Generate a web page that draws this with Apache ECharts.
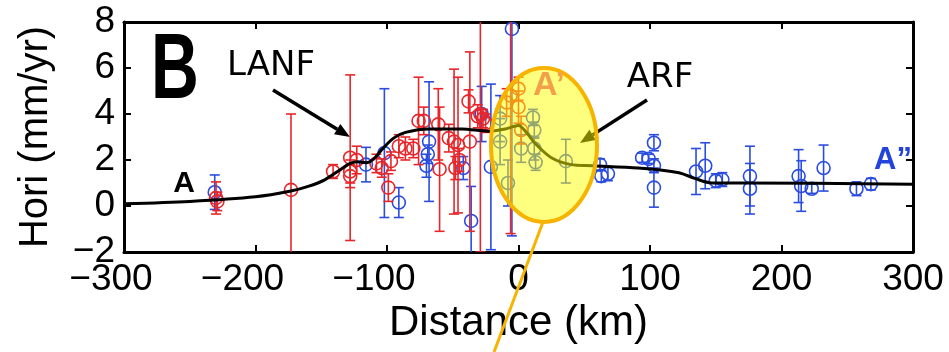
<!DOCTYPE html>
<html>
<head>
<meta charset="utf-8">
<script src="https://cdn.jsdelivr.net/npm/echarts@6/dist/echarts.min.js"></script>
<style>
  html, body { margin: 0; padding: 0; background: #fff; }
  #chart { width: 949px; height: 352px; }
</style>
</head>
<body>
<div id="chart"></div>
<script>
// values (km, mm/yr)
var blueX = [-231, -116, -102, -91, -68, -69, -70, -42, -36, -28, -21, -14, -14, -5, -8, 2,
  11, 12, 12, 13, 36, 62, 68, 63, 94, 99, 103, 103, 103, 135, 142, 150, 155, 176, 176,
  213, 215, 223, 232, 257, 268];
var blueY = [0.6, 1.8, 2.3, 0.15, 2.8, 2.25, 1.75, 1.65, -0.65, 4.0, 1.7, 3.8, 2.8, 7.7, 1.0, 2.5,
  3.85, 3.3, 2.5, 1.9, 1.95, 1.8, 1.4, 1.3, 2.1, 2.05, 2.75, 1.75, 0.8, 1.5, 1.75, 1.1, 1.15, 1.3, 0.75,
  1.3, 0.87, 0.75, 1.65, 0.75, 0.95];
var blueErr = [0.75, 0.75, 2.8, 0.65, 2.6, 0.4, 0.5, 0.5, 1.5, 1.2, 3.6, 1.0, 1.0, 9.0, 1.0, 0.6,
  0.35, 0.35, 0.5, 0.35, 0.95, 0.25, 0.3, 0.25, 0.2, 0.2, 0.35, 0.3, 0.85, 1.0, 1.0, 0.3, 0.3, 1.3, 1.1,
  1.15, 1.1, 0.2, 1.0, 0.3, 0.25];

var redX = [-230, -229, -173, -141, -128, -128, -128, -123, -108, -104, -97, -99, -91, -86, -80,
  -76, -72, -61, -60, -53, -49, -46, -45, -48, -38, -37, -31, -29, -27, -25, -9, -6, 0, 0, 2];
var redY = [0.35, 0.2, 0.7, 1.5, 2.1, 1.5, 1.3, 2.0, 1.85, 1.65, 1.95, 0.8, 2.6, 2.5, 2.5,
  3.7, 3.7, 3.55, 1.6, 2.95, 2.8, 2.65, 2.0, 1.65, 4.55, 2.8, 3.9, 4.0, 3.8, 3.6, 4.5, 4.8, 4.3, 5.1, 3.3];
var redErr = [0.7, 0.4, 3.3, 0.3, 3.6, 0.5, 0.5, 0.6, 0.4, 0.4, 0.4, 0.6, 0.5, 0.5, 0.4,
  1.9, 0.6, 1.55, 2.7, 0.6, 3.15, 2.95, 0.5, 0.5, 0.5, 3.9, 0.5, 6.0, 0.4, 0.4, 0.6, 6.0, 0.7, 0.5, 0.6];

var curveX = [-300, -250, -200, -173, -160, -147, -135, -128, -122, -116, -110, -104, -95, -86,
  -68, -43, -23, -10, 0, 6, 13, 25, 40, 56, 91, 122, 134, 147, 167, 300];
var curveY = [0.1, 0.2, 0.4, 0.65, 0.85, 1.15, 1.6, 1.85, 1.92, 1.88, 2.05, 2.45, 2.95, 3.2,
  3.35, 3.35, 3.25, 3.35, 3.5, 3.2, 2.7, 2.1, 1.8, 1.75, 1.65, 1.45, 1.2, 1.0, 1.0, 0.95];

function zip3(a, b, c) {
  return a.map(function (v, i) { return [v, b[i], c[i]]; });
}

// error bar + open circle
function errItem(color) {
  return function (params, api) {
    var x = api.value(0), y = api.value(1), e = api.value(2);
    var p = api.coord([x, y]);
    var t = api.coord([x, y + e]);
    var b = api.coord([x, y - e]);
    var st = { stroke: color, lineWidth: 1.6, fill: 'none' };
    return {
      type: 'group',
      children: [
        { type: 'line', shape: { x1: p[0], y1: t[1], x2: p[0], y2: b[1] }, style: st },
        { type: 'line', shape: { x1: p[0] - 5, y1: t[1], x2: p[0] + 5, y2: t[1] }, style: st },
        { type: 'line', shape: { x1: p[0] - 5, y1: b[1], x2: p[0] + 5, y2: b[1] }, style: st },
        { type: 'circle', shape: { cx: p[0], cy: p[1], r: 6.5 }, style: st }
      ]
    };
  };
}

function arrow(x1, y1, x2, y2) {
  var a = Math.atan2(y2 - y1, x2 - x1), L = 15, W = 6;
  var bx = x2 - L * Math.cos(a), by = y2 - L * Math.sin(a);
  return {
    type: 'group', z: 50,
    children: [
      { type: 'line', shape: { x1: x1, y1: y1, x2: bx, y2: by }, style: { stroke: '#000', lineWidth: 3.5 } },
      { type: 'polygon', shape: { points: [[x2, y2],
        [bx + W * Math.sin(a), by - W * Math.cos(a)],
        [bx - W * Math.sin(a), by + W * Math.cos(a)]] }, style: { fill: '#000' } }
    ]
  };
}

function minus(v) { return String(v).replace('-', '\u2212'); }

var chart = echarts.init(document.getElementById('chart'));

var axisText = { color: '#000', fontSize: 37, fontFamily: 'Liberation Sans' };

var option = {
  animation: false,
  backgroundColor: '#fff',
  grid: { left: 124, right: 36, top: 22, bottom: 100 },
  xAxis: [
    {
      type: 'value', min: -300, max: 300, interval: 100,
      name: 'Distance (km)', nameLocation: 'middle', nameGap: 46,
      nameTextStyle: { color: '#000', fontSize: 42, fontFamily: 'Liberation Sans' },
      axisLine: { onZero: false, lineStyle: { color: '#000', width: 3 } },
      axisTick: { inside: true, length: 7, lineStyle: { color: '#000', width: 2 } },
      axisLabel: Object.assign({
        margin: 9,
        // negative labels sit a bit left of their tick, as in the original
        formatter: function (v) { return v < 0 ? '{neg|' + minus(v) + '}' : minus(v); },
        rich: { neg: { color: '#000', fontSize: 37, fontFamily: 'Liberation Sans', padding: [0, 26, 0, 0] } }
      }, axisText),
      splitLine: { show: false }
    },
    {
      type: 'value', min: -300, max: 300, interval: 100, position: 'top',
      axisLine: { onZero: false, lineStyle: { color: '#000', width: 3 } },
      axisTick: { inside: true, length: 7, lineStyle: { color: '#000', width: 2 } },
      axisLabel: { show: false }, splitLine: { show: false }
    }
  ],
  yAxis: [
    {
      type: 'value', min: -2, max: 8, interval: 2,
      name: 'Hori (mm/yr)', nameLocation: 'middle', nameGap: 68,
      nameTextStyle: { color: '#000', fontSize: 40, fontFamily: 'Liberation Sans' },
      axisLine: { show: true, onZero: false, lineStyle: { color: '#000', width: 3 } },
      axisTick: { show: true, inside: true, length: 7, lineStyle: { color: '#000', width: 2 } },
      axisLabel: Object.assign({ margin: 9, formatter: minus }, axisText),
      splitLine: { show: false }
    },
    {
      type: 'value', min: -2, max: 8, interval: 2, position: 'right',
      axisLine: { show: true, onZero: false, lineStyle: { color: '#000', width: 3 } },
      axisTick: { show: true, inside: true, length: 7, lineStyle: { color: '#000', width: 2 } },
      axisLabel: { show: false }, splitLine: { show: false }
    }
  ],
  series: [
    {
      type: 'custom', name: 'blue', clip: true, z: 2,
      renderItem: errItem('#2a4de0'),
      data: zip3(blueX, blueY, blueErr)
    },
    {
      type: 'custom', name: 'red', clip: true, z: 3,
      renderItem: errItem('#e8262a'),
      data: zip3(redX, redY, redErr)
    },
    {
      type: 'line', name: 'model', z: 4, smooth: 0.3, symbol: 'none',
      lineStyle: { color: '#000', width: 3 },
      data: curveX.map(function (v, i) { return [v, curveY[i]]; })
    }
  ],
  graphic: [
    { type: 'text', z: 50, x: 175, y: 73, scaleX: 0.72, originX: 0, originY: 0,
      style: { text: 'B', fill: '#000', font: '900 92px "Liberation Sans"', textAlign: 'center', textVerticalAlign: 'middle' } },
    { type: 'text', z: 50, style: { x: 271, y: 66, text: 'LANF', fill: '#000', font: '34px "DejaVu Sans"', textAlign: 'center', textVerticalAlign: 'middle' } },
    { type: 'text', z: 50, style: { x: 660, y: 78, text: 'ARF', fill: '#000', font: '34px "DejaVu Sans"', textAlign: 'center', textVerticalAlign: 'middle' } },
    { type: 'text', z: 50, style: { x: 184, y: 184, text: 'A', fill: '#000', font: 'bold 30px "Liberation Sans"', textAlign: 'center', textVerticalAlign: 'middle' } },
    { type: 'text', z: 50, style: { x: 893, y: 160, text: 'A\u201D', fill: '#2244dd', font: 'bold 31px "Liberation Sans"', textAlign: 'center', textVerticalAlign: 'middle' } },
    arrow(273, 90, 350, 137),
    arrow(647, 100, 580, 143),
    { type: 'ellipse', z: 100, shape: { cx: 544, cy: 145, rx: 53, ry: 77 },
      style: { fill: 'rgba(255,255,0,0.5)', stroke: '#f6b400', lineWidth: 4 } },
    { type: 'line', z: 100, shape: { x1: 543, y1: 222, x2: 494, y2: 352 },
      style: { stroke: '#f6b400', lineWidth: 3 } },
    { type: 'text', z: 101, style: { x: 549, y: 86, text: 'A\u2019', fill: '#f2a04a', font: 'bold 34px "Liberation Sans"', textAlign: 'center', textVerticalAlign: 'middle' } }
  ]
};

chart.setOption(option);
</script>
</body>
</html>
